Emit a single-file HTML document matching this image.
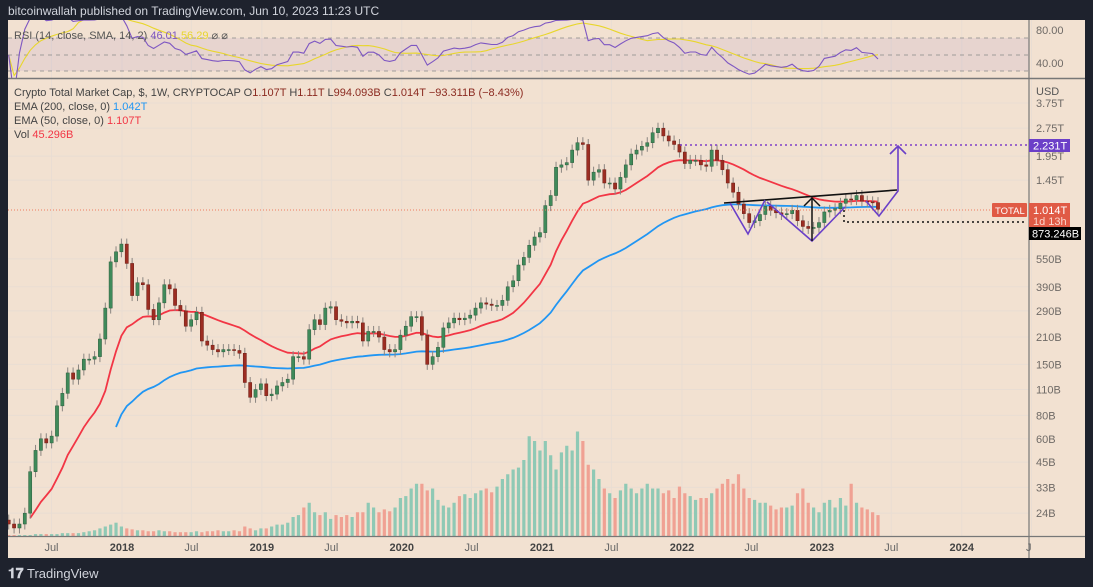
<!DOCTYPE html>
<html><head><meta charset="utf-8"><style>
html,body{margin:0;padding:0;background:#1e222d;width:1093px;height:587px;overflow:hidden}
svg{display:block;font-family:"Liberation Sans",sans-serif}
</style></head><body>
<svg id="chart" width="1093" height="587" viewBox="0 0 1093 587" xmlns="http://www.w3.org/2000/svg">
<defs>
<clipPath id="mainClip"><rect x="8" y="79" width="1021" height="457"/></clipPath>
<clipPath id="rsiClip"><rect x="8" y="20" width="1021" height="58"/></clipPath>
</defs>
<rect x="0" y="0" width="1093" height="587" fill="#1e222d"/>
<text x="8" y="15" font-size="12" fill="#d1d4dc">bitcoinwallah published on TradingView.com, Jun 10, 2023 11:23 UTC</text>
<rect x="8" y="20" width="1077" height="538" fill="#f2e1d1"/>
<g id="grid"></g>
<rect x="8" y="38" width="1021" height="33" fill="rgba(126,87,194,0.09)"/>
<g id="rsiGuides">
<line x1="8" x2="1029" y1="38" y2="38" stroke="#888" stroke-dasharray="4,4" stroke-width="0.8"/>
<line x1="8" x2="1029" y1="55" y2="55" stroke="#888" stroke-dasharray="4,4" stroke-width="0.8"/>
<line x1="8" x2="1029" y1="71" y2="71" stroke="#888" stroke-dasharray="4,4" stroke-width="0.8"/>
</g>
<g id="rsi" clip-path="url(#rsiClip)"></g>
<line x1="8" x2="1085" y1="78.5" y2="78.5" stroke="#777" stroke-width="1.5"/>
<g id="vol" clip-path="url(#mainClip)"></g>
<g id="emas" clip-path="url(#mainClip)"></g>
<g id="candles" clip-path="url(#mainClip)"></g>
<g id="drawings">
<line x1="680" x2="1027" y1="145" y2="145" stroke="#7e3fc8" stroke-width="1.5" stroke-dasharray="2,3"/>
<line x1="8" x2="1027" y1="210" y2="210" stroke="#ef7a60" stroke-width="1" stroke-dasharray="1,2"/>
<polyline points="844,210 844,222 1027,222" fill="none" stroke="#111" stroke-width="1.5" stroke-dasharray="2,3"/>
<line x1="724" y1="203" x2="897" y2="190" stroke="#111" stroke-width="1.6"/>
<polyline points="730,203 748,234 765,200" fill="none" stroke="#6a3fc8" stroke-width="1.6"/>
<polyline points="767,202 812,241 845,207" fill="none" stroke="#6a3fc8" stroke-width="1.6"/>
<polyline points="866,201 879,216 898,191 898,146" fill="none" stroke="#6a3fc8" stroke-width="1.6"/>
<polyline points="890,154 898,146 906,154" fill="none" stroke="#6a3fc8" stroke-width="1.6"/>
<polyline points="812,241 812,198" fill="none" stroke="#111" stroke-width="1.5"/>
<polyline points="804,206 812,198 820,206" fill="none" stroke="#111" stroke-width="1.5"/>
</g>
<line x1="1029" x2="1029" y1="20" y2="558" stroke="#777" stroke-width="1.2"/>
<line x1="8" x2="1085" y1="536.5" y2="536.5" stroke="#777" stroke-width="1.2"/>
<g id="priceAxis" font-size="11" fill="#6f6a66"></g>
<g id="timeAxis" font-size="11" fill="#555"></g>
<text x="1036" y="95" font-size="11" fill="#555">USD</text>
<text x="1036" y="34" font-size="11" fill="#6f6a66">80.00</text>
<text x="1036" y="67" font-size="11" fill="#6f6a66">40.00</text>
<g><rect x="1029" y="139" width="41" height="13" fill="#6c3fc8"/><text x="1033" y="149.5" font-size="11" fill="#fff">2.231T</text></g>
<g><rect x="992" y="203" width="35" height="14" fill="#e05a45" rx="1"/><text x="995" y="214" font-size="9.5" fill="#fff">TOTAL</text></g>
<g><rect x="1029" y="203" width="41" height="24" fill="#e05a45"/><text x="1033" y="214" font-size="11" fill="#fff">1.014T</text><text x="1033" y="225" font-size="11" fill="#fbd5cc">1d 13h</text></g>
<g><rect x="1029" y="227" width="52" height="13" fill="#000"/><text x="1032" y="237.5" font-size="11" fill="#fff">873.246B</text></g>
<g font-size="11">
<text x="14" y="39" fill="#555">RSI (14, close, SMA, 14, 2) <tspan fill="#7e57c2">46.01</tspan> <tspan fill="#e8d62c">56.29</tspan> ⌀ ⌀</text>
</g>
<g font-size="11" fill="#444">
<text x="14" y="96">Crypto Total Market Cap, $, 1W, CRYPTOCAP  O<tspan fill="#8b2a20">1.107T</tspan>  H<tspan fill="#8b2a20">1.11T</tspan>  L<tspan fill="#8b2a20">994.093B</tspan>  C<tspan fill="#8b2a20">1.014T</tspan>  <tspan fill="#8b2a20">−93.311B (−8.43%)</tspan></text>
<text x="14" y="110">EMA (200, close, 0) <tspan fill="#2196f3">1.042T</tspan></text>
<text x="14" y="124">EMA (50, close, 0) <tspan fill="#f23645">1.107T</tspan></text>
<text x="14" y="138">Vol <tspan fill="#f23645">45.296B</tspan></text>
</g>
<g>
<text x="8" y="578" font-size="14" font-weight="bold" fill="#d1d4dc">𝟏𝟕</text>
<text x="27" y="578" font-size="13" fill="#d1d4dc">TradingView</text>
</g>
</svg>
<script>
// ---- data (biweekly samples, billions USD) ----
const closes = [21,20,21,24,40,52,60,57,62,90,
105,135,125,140,160,160,165,205,300,530,
600,660,520,350,410,400,295,260,320,400,
380,310,290,240,260,285,200,190,180,175,
180,180,178,172,120,100,110,118,102,104,
115,120,125,165,165,160,230,260,245,300,
305,260,255,250,255,250,200,225,225,210,
180,175,180,215,240,270,270,215,150,165,
185,235,250,265,260,265,275,300,320,315,
310,310,330,390,420,510,560,650,720,760,
1060,1200,1700,1750,1800,2100,2300,2250,1450,1600,
1650,1400,1400,1300,1500,1750,2000,2100,2200,2300,
2600,2750,2500,2350,2250,2050,1780,1850,1850,1750,
1720,2100,1850,1650,1400,1250,1080,960,860,880,
950,1050,1000,970,950,960,1000,880,820,800,
810,860,980,1000,1020,1090,1150,1140,1200,1120,
1110,1100,1014];
const volumes = [1,1,1,1,1,2,2,2,2,2,3,3,3,3,4,5,6,8,
10,12,14,10,8,7,6,6,
5,5,6,5,5,4,4,4,4,5,4,5,5,6,5,5,6,5,
10,8,6,8,8,10,12,12,14,
20,22,30,35,25,22,25,18,22,
20,22,20,25,25,35,30,25,28,
26,30,40,42,50,55,55,48,50,
38,32,30,35,42,44,40,45,
48,50,46,52,60,65,70,72,80,105,100,90,
100,85,70,88,95,90,110,100,75,70,60,
50,45,40,48,55,50,45,50,55,50,
50,45,48,40,52,45,42,38,40,40,
45,50,55,60,55,65,50,40,38,35,35,
32,28,30,30,32,45,50,35,30,25,
35,38,30,40,32,55,35,30,28,25,22];
const priceTicks = [3750,2750,1950,1450,550,390,290,210,150,110,80,60,45,33,24];
const priceTickLabels = ["3.75T","2.75T","1.95T","1.45T","550B","390B","290B","210B","150B","110B","80B","60B","45B","33B","24B"];
const timeTickDates = ["2017-07-01","2018-01-01","2018-07-01","2019-01-01","2019-07-01","2020-01-01","2020-07-01","2021-01-01","2021-07-01","2022-01-01","2022-07-01","2023-01-01","2023-07-01","2024-01-01","2024-07-01"];
const timeTickLabels = ["Jul","2018","Jul","2019","Jul","2020","Jul","2021","Jul","2022","Jul","2023","Jul","2024","J"];

const NS = "http://www.w3.org/2000/svg";
const N = closes.length;
const STEP = 5.366;
function xAt(i){ return 878 - (N-1-i)*STEP; }
function yPrice(v){ return 103 + 81.2*Math.log(3750/v); }
function xDate(s){ const d=new Date(s+"T00:00:00Z"), r=Date.UTC(2018,0,1); return 122 + (d-r)/(7*864e5)*2.683; }
function yVol(v){ return 536 - v*0.95; }
function yRsi(r){ return 55 - (r-50)*0.825; }
function mk(tag, attrs, parent){ const e=document.createElementNS(NS,tag); for(const k in attrs) e.setAttribute(k,attrs[k]); parent.appendChild(e); return e; }

const grid=document.getElementById('grid'), pa=document.getElementById('priceAxis'), ta=document.getElementById('timeAxis');
priceTicks.forEach((v,i)=>{
  const y=yPrice(v);
  const l=mk('line',{x1:8,x2:1029,y1:y,y2:y,stroke:'#e9ddd3','stroke-width':1},grid);
  
  
  const t=mk('text',{x:1036,y:y+4},pa);
  t.textContent=priceTickLabels[i];
  
  
});
timeTickDates.forEach((d,i)=>{
  const x=xDate(d);
  const l=mk('line',{x1:x,x2:x,y1:20,y2:536,stroke:'#e9ddd3','stroke-width':1},grid);
  
  
  const lab=timeTickLabels[i];
  const bold=/^\d{4}$/.test(lab);
  const t=mk('text',{x:x,y:551,'text-anchor':lab==='J'?'end':'middle','font-weight':bold?'bold':'normal',fill:bold?'#444':'#666'},ta);
  t.textContent=lab;
  
  
});

const vg=document.getElementById('vol'), cg=document.getElementById('candles');
for(let i=0;i<N;i++){
  const c=closes[i], o=i>0?closes[i-1]:closes[0]*1.05;
  const up=c>=o, x=xAt(i);
  const vb=mk('rect',{x:x-1.6,y:yVol(volumes[i]),width:3.2,height:536-yVol(volumes[i]),fill:up?'#8fc9b5':'#f0a193'},vg);
  
  
  const hi=Math.max(o,c)*1.07, lo=Math.min(o,c)/1.07;
  const w=mk('line',{x1:x,x2:x,y1:yPrice(hi),y2:yPrice(lo),stroke:'#8a8580','stroke-width':1},cg);
  
  
  const yt=yPrice(Math.max(o,c)), yb=yPrice(Math.min(o,c));
  const b=mk('rect',{x:x-1.6,y:yt,width:3.2,height:Math.max(1,yb-yt),fill:up?'#3f8a5a':'#9c2d22',stroke:up?'#2d5e3e':'#6d1e16','stroke-width':0.5},cg);
  
  
}

function ema(arr,a){ const out=[]; let e=arr[0]; arr.forEach(v=>{ e=e+a*(v-e); out.push(e); }); return out; }
const e50=ema(closes,2/26), e200=ema(closes,2/101);
const eg=document.getElementById('emas');
function poly(vals,start,color,name){
  let d=''; for(let i=start;i<N;i++) d+=(i===start?'M':'L')+xAt(i).toFixed(1)+','+yPrice(vals[i]).toFixed(1);
  const p=mk('path',{d:d,fill:'none',stroke:color,'stroke-width':1.8},eg);
  
  
}
poly(e200,20,'#2196f3','ema-200-line');
poly(e50,4,'#f23645','ema-50-line');

const P=12; const rsi=[]; let ag=0, al=0;
for(let i=0;i<N;i++){
  if(i===0){rsi.push(50);continue;}
  const ch=Math.log(closes[i]/closes[i-1]);
  const g=Math.max(ch,0), l=Math.max(-ch,0);
  ag=(ag*(P-1)+g)/P; al=(al*(P-1)+l)/P;
  rsi.push(al===0?100:100-100/(1+ag/al));
}
const rsma=rsi.map((v,i)=>{ const s=rsi.slice(Math.max(0,i-P+1),i+1); return s.reduce((a,b)=>a+b,0)/s.length; });
const rg=document.getElementById('rsi');
function rline(vals,color,name){
  let d=''; vals.forEach((v,i)=>{ d+=(i?'L':'M')+xAt(i).toFixed(1)+','+yRsi(v).toFixed(1); });
  const p=mk('path',{d:d,fill:'none',stroke:color,'stroke-width':1.1},rg);
  
  
}
rline(rsma,'#e8d62c','rsi-sma-line');
rline(rsi,'#7e57c2','rsi-line');
</script>
</body></html>
